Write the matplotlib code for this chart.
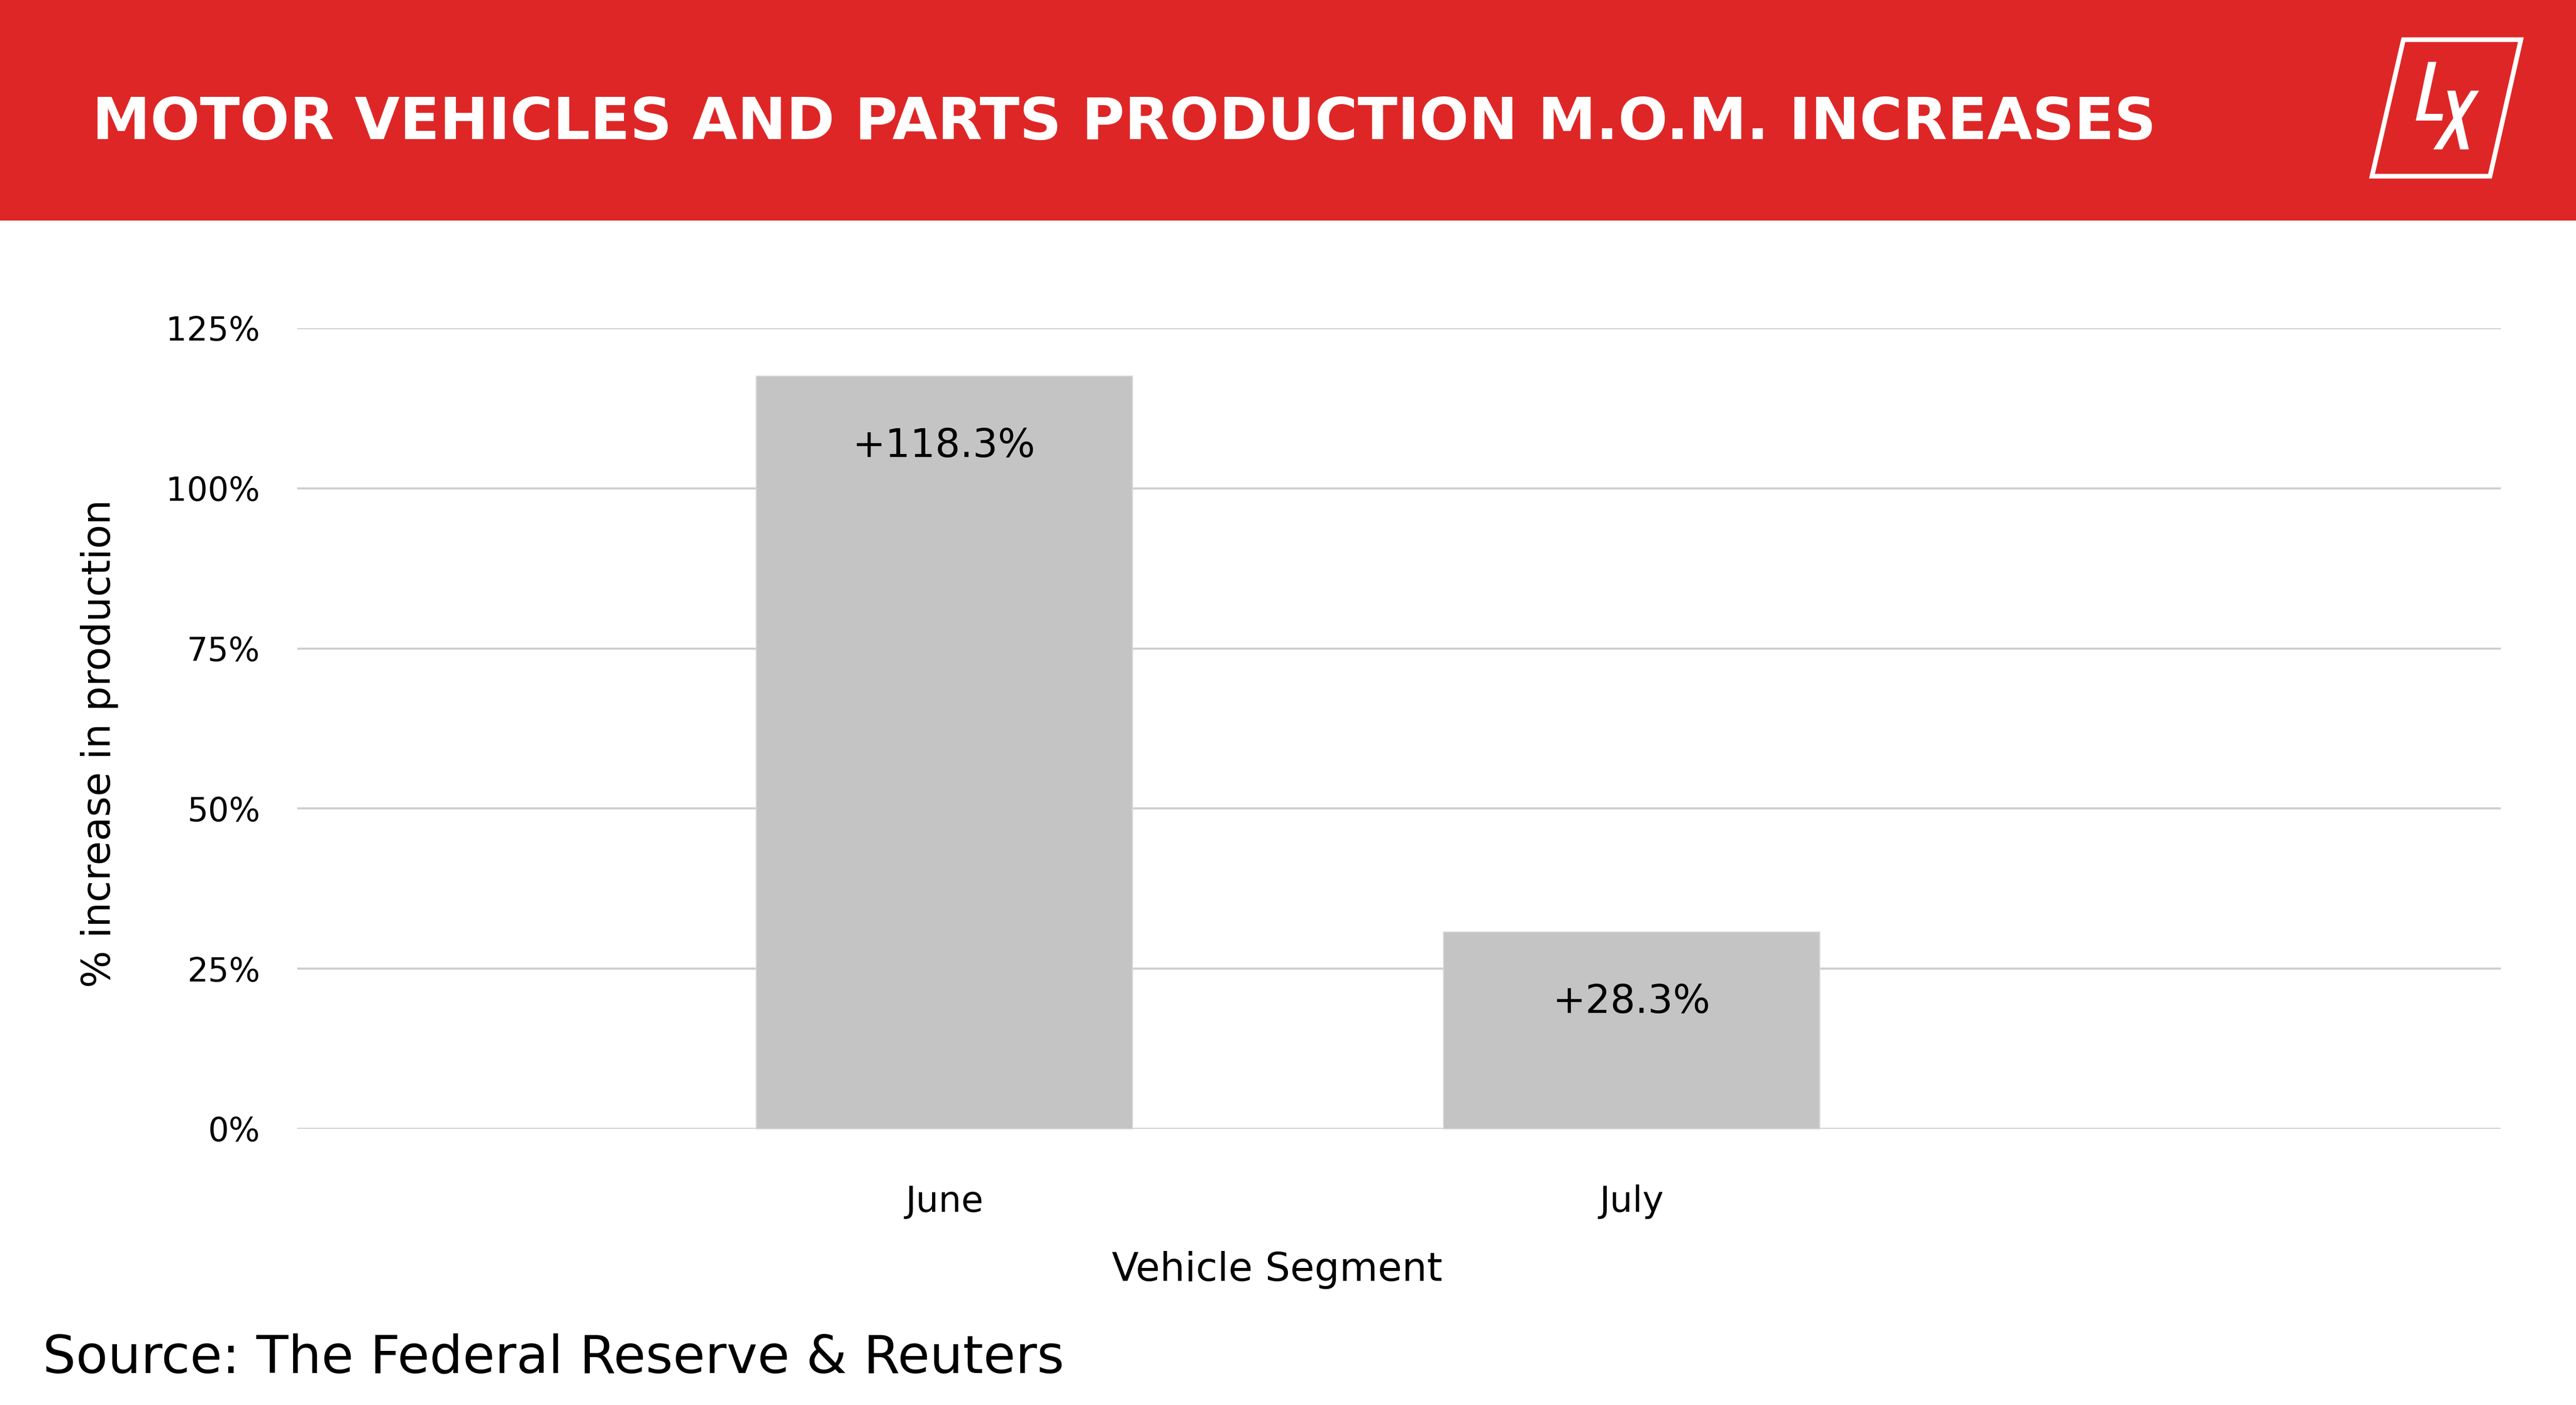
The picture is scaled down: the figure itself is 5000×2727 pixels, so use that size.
import matplotlib
matplotlib.use("Agg")
import matplotlib.pyplot as plt
from matplotlib.patches import Rectangle, Polygon

# ---- data ----
categories = ["June", "July"]
values = [117.5, 30.7]            # bar heights as drawn
value_labels = ["+118.3%", "+28.3%"]
yticks = [0, 25, 50, 75, 100, 125]
ytick_labels = ["0%", "25%", "50%", "75%", "100%", "125%"]
title = "MOTOR VEHICLES AND PARTS PRODUCTION M.O.M. INCREASES"
source = "Source: The Federal Reserve & Reuters"
xlabel = "Vehicle Segment"
ylabel = "% increase in production"

W, H = 5000, 2727
DPI = 100
RED = "#DF2626"
BAR = "#C4C4C4"
GRID = "#CFCFCF"
FONT = "DejaVu Sans"

fig = plt.figure(figsize=(W / DPI, H / DPI), dpi=DPI)
fig.patch.set_facecolor("white")

# background / header axes in pixel coords
bg = fig.add_axes([0, 0, 1, 1], zorder=0)
bg.set_xlim(0, W)
bg.set_ylim(H, 0)
bg.axis("off")
bg.add_patch(Rectangle((0, 0), W, 428, facecolor=RED, edgecolor="none"))
# logo
bg.add_patch(Polygon([(4665, 77), (4893, 77), (4833, 342), (4604, 342)], closed=True,
                     fill=False, edgecolor="white", linewidth=6.5, joinstyle="miter"))
bg.add_patch(Polygon([(4713, 120), (4729, 120), (4707, 221), (4742, 221), (4740, 234), (4689, 234)],
                     closed=True, facecolor="white", edgecolor="none"))
bg.add_patch(Polygon([(4750, 176), (4766, 176), (4792, 290), (4775, 290)],
                     closed=True, facecolor="white", edgecolor="none"))
bg.add_patch(Polygon([(4796, 176), (4812, 176), (4740, 290), (4723, 290)],
                     closed=True, facecolor="white", edgecolor="none"))

# chart axes
left, right, top, bottom = 577, 4854, 637, 2191
ax = fig.add_axes([left / W, 1 - bottom / H, (right - left) / W, (bottom - top) / H], zorder=2)
ax.set_facecolor("none")
x = list(range(len(categories)))
bars = ax.bar(x, values, width=0.5465, color=BAR, edgecolor="#D6D6D6", linewidth=1.5,
              zorder=3, clip_on=False)
ax.set_xlim(-0.9415, 2.2646)
ax.set_ylim(0, 125)
ax.set_yticks(yticks)
ax.set_yticklabels(ytick_labels, fontsize=46, family=FONT, color="black")
ax.set_xticks(x)
ax.set_xticklabels(categories, fontsize=50, family=FONT, color="black")
ax.yaxis.grid(True, color=GRID, linewidth=2.9, zorder=1)
ax.set_axisbelow(True)
for s in ax.spines.values():
    s.set_visible(False)
ax.tick_params(axis="both", length=0)
ax.tick_params(axis="y", pad=52)
ax.tick_params(axis="x", pad=78)

for b, lab in zip(bars, value_labels):
    ax.annotate(lab, xy=(b.get_x() + b.get_width() / 2, b.get_height()),
                xytext=(0, -113), textcoords="offset points", ha="center", va="baseline",
                fontsize=55, family=FONT, color="black", zorder=4)

fig.text(2479 / W, 1 - 2465 / H, xlabel, ha="center", va="center", fontsize=55, family=FONT)
fig.text(193 / W, 1 - 1443 / H, ylabel, ha="center", va="center", rotation=90, fontsize=55, family=FONT)

t = fig.text(179 / W, 1 - 270 / H, title, ha="left", va="baseline", color="white",
             fontsize=87, fontweight="bold", family=FONT)
s = fig.text(83 / W, 1 - 2664 / H, source, ha="left", va="baseline", color="black",
             fontsize=76, family=FONT)

# fit long texts to measured widths
r = fig.canvas.get_renderer()
for txt, target in [(t, 4008), (s, 1982)]:
    w = txt.get_window_extent(renderer=r).width
    txt.set_fontsize(txt.get_fontsize() * target / w)

fig.savefig("out.png", dpi=DPI)
